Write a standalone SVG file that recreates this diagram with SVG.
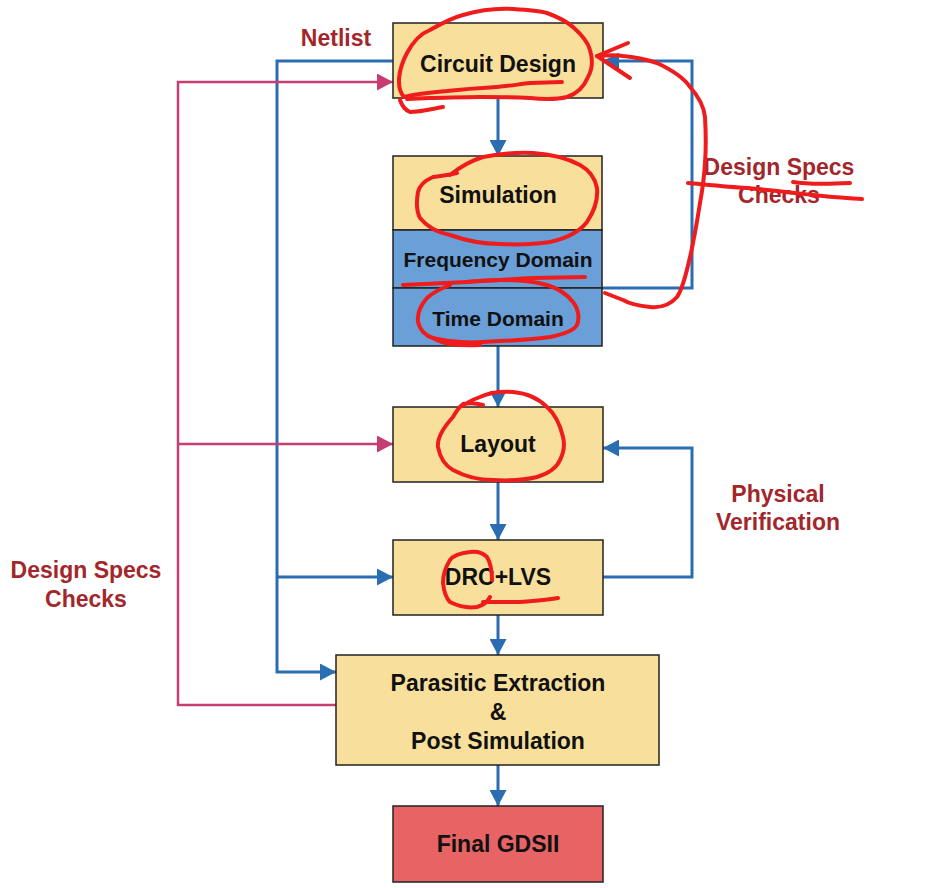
<svg xmlns="http://www.w3.org/2000/svg" width="943" height="888" viewBox="0 0 943 888">
<defs>
<marker id="ab" viewBox="0 0 14 14" markerWidth="16" markerHeight="17" refX="14" refY="7" orient="auto" markerUnits="userSpaceOnUse" preserveAspectRatio="none"><path d="M0,0 L14,7 L0,14 z" fill="#2A6DB3"/></marker>
<marker id="ap" viewBox="0 0 14 14" markerWidth="16" markerHeight="17" refX="14" refY="7" orient="auto" markerUnits="userSpaceOnUse" preserveAspectRatio="none"><path d="M0,0 L14,7 L0,14 z" fill="#C83C74"/></marker>
</defs>
<style>
.box{stroke:#222;stroke-width:1.5}
.y{fill:#F8E09C}
.b{fill:#6A9FD8}
.r{fill:#E86464}
.t{font-family:"Liberation Sans",Arial,sans-serif;font-weight:bold;font-size:23px;fill:#111;text-anchor:middle;dominant-baseline:central}
.s{font-size:21px}
.lbl{font-family:"Liberation Sans",Arial,sans-serif;font-weight:bold;font-size:23px;fill:#A3262A;text-anchor:middle;dominant-baseline:central}
.cb{fill:none;stroke:#2A6DB3;stroke-width:3}
.cp{fill:none;stroke:#C83C74;stroke-width:2.5}
.sc{fill:none;stroke:#EE1C1C;stroke-width:4;stroke-linecap:round;stroke-linejoin:round}
</style>
<rect width="943" height="888" fill="#fff"/>
<g id="connectors">
<path class="cb" d="M498,98 V156" marker-end="url(#ab)"/>
<path class="cb" d="M498,346 V407" marker-end="url(#ab)"/>
<path class="cb" d="M498,482 V540" marker-end="url(#ab)"/>
<path class="cb" d="M498,615 V655" marker-end="url(#ab)"/>
<path class="cb" d="M498,765 V806" marker-end="url(#ab)"/>
<path class="cb" d="M393,61 H277 V672 H336" marker-end="url(#ab)"/>
<path class="cb" d="M277,577 H393" marker-end="url(#ab)"/>
<path class="cp" d="M336,705 H178 V82 H393" marker-end="url(#ap)"/>
<path class="cp" d="M178,444 H393" marker-end="url(#ap)"/>
<path class="cb" d="M602,288 H692 V61 H603" marker-end="url(#ab)"/>
<path class="cb" d="M603,577 H692 V448 H603" marker-end="url(#ab)"/>
</g>
<g id="circuit-design">
<rect class="box y" x="393" y="23" width="210" height="75"/>
<text class="t" x="498" y="64">Circuit Design</text>
</g>
<g id="simulation">
<rect class="box y" x="393" y="156" width="209" height="74"/>
<text class="t" x="498" y="195">Simulation</text>
</g>
<g id="frequency-domain">
<rect class="box b" x="393" y="230" width="209" height="58"/>
<text class="t s" x="498" y="259">Frequency Domain</text>
</g>
<g id="time-domain">
<rect class="box b" x="393" y="288" width="209" height="58"/>
<text class="t s" x="498" y="318">Time Domain</text>
</g>
<g id="layout">
<rect class="box y" x="393" y="407" width="210" height="75"/>
<text class="t" x="498" y="444">Layout</text>
</g>
<g id="drc-lvs">
<rect class="box y" x="393" y="540" width="210" height="75"/>
<text class="t" x="498" y="577">DRC+LVS</text>
</g>
<g id="parasitic-extraction">
<rect class="box y" x="336" y="655" width="323" height="110"/>
<text class="t" x="498" y="683">Parasitic Extraction</text>
<text class="t" x="498" y="712">&amp;</text>
<text class="t" x="498" y="741">Post Simulation</text>
</g>
<g id="final-gdsii">
<rect class="box r" x="393" y="806" width="210" height="76"/>
<text class="t" x="498" y="844">Final GDSII</text>
</g>
<g id="labels">
<text class="lbl" x="336" y="38">Netlist</text>
<text class="lbl" x="779" y="167">Design Specs</text>
<text class="lbl" x="779" y="195">Checks</text>
<text class="lbl" x="778" y="494">Physical</text>
<text class="lbl" x="778" y="522">Verification</text>
<text class="lbl" x="86" y="570">Design Specs</text>
<text class="lbl" x="86" y="599">Checks</text>
</g>
<g id="annotations">
<path class="sc" d="M404,97 C396,88 398,70 407,53 C414,40 422,33 430,30 C444,22 455,17 463,15 C480,10 498,8 513,9 C530,10 540,11 547,13 C558,17 566,21 573,27 C582,35 588,42 590,50 C593,60 592,70 588,77 C584,87 576,94 567,97 C555,100 540,99 530,98 C510,97 495,97 480,97 C460,97 445,98 430,98 L407,99"/>
<path class="sc" d="M404,97 C420,93 435,92 447,91 C465,89 480,88 497,87 C510,86 520,84 530,83 L562,82"/>
<path class="sc" d="M400,100 C402,106 405,110 410,112 C420,112 432,109 443,107"/>
<path class="sc" d="M628,43 L597,56 L630,78"/>
<path class="sc" d="M597,56 C610,55 618,55 623,56 C635,57 648,60 657,63 C672,70 684,78 690,87 C700,98 704,108 705,117 C706,135 706,150 705,163 C704,180 702,192 700,203 C697,222 694,240 690,257 C686,275 682,290 677,297 C670,305 660,308 650,307 C640,306 630,304 623,300 L605,293"/>
<path class="sc" d="M688,183 C710,185 730,187 747,188 C770,190 795,193 813,195 C830,197 848,198 862,199"/>
<path class="sc" d="M793,182 C805,184 830,184 850,183"/>
<path class="sc" d="M457,173 C445,176 438,176 433,177 C424,181 419,187 418,192 C416,203 417,212 420,218 C428,228 440,233 450,235 C467,241 485,244 500,244 C520,245 537,244 550,242 C568,238 580,231 587,222 C595,210 598,198 597,188 C595,178 589,170 580,165 C565,157 548,154 533,153 C515,152 498,154 483,157 C470,161 460,167 450,175"/>
<path class="sc" d="M403,285 C425,284 445,283 467,282 C490,281 512,279 533,278 L585,277"/>
<path class="sc" d="M450,285 C440,289 432,293 427,298 C420,306 417,314 418,322 C420,330 426,336 433,338 C450,342 468,343 483,342 C505,341 530,340 550,337 C565,334 574,330 577,325 C580,317 578,308 573,302 C566,293 557,288 547,285 C532,281 515,280 500,280 C488,280 476,281 467,282"/>
<path class="sc" d="M433,338 C445,345 460,346 480,345"/>
<path class="sc" d="M517,340 l1,0"/>
<path class="sc" d="M483,405 C476,403 468,403 463,404 C458,408 456,412 453,417 C443,428 437,438 438,447 C440,458 446,466 453,470 C466,477 480,480 493,480 C510,481 525,480 537,477 C550,473 557,467 560,460 C564,452 565,445 563,437 C560,424 555,414 547,407 C538,398 525,393 513,392 C500,391 489,393 480,397 C472,400 466,403 463,406"/>
<path class="sc" d="M492,580 C492,570 490,562 487,557 C482,552 476,551 470,552 C460,553 453,556 450,560 C445,568 443,576 443,583 C444,592 446,598 450,602 C460,607 470,608 477,607 C484,605 488,601 490,597"/>
<path class="sc" d="M483,602 C495,602 508,602 520,602 C535,601 548,600 558,598"/>
</g>
</svg>
